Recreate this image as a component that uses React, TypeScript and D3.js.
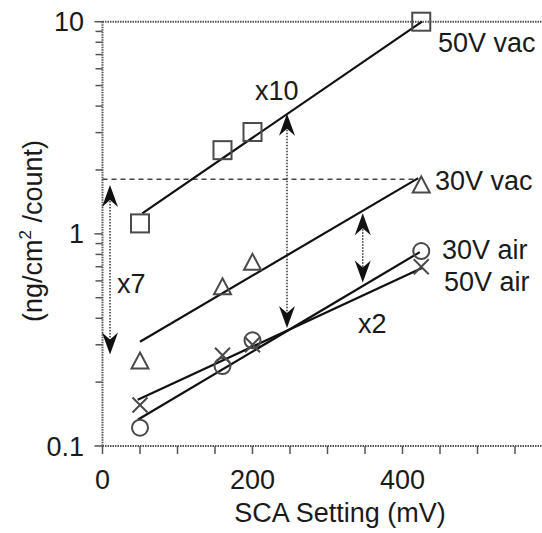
import React from "react";
import * as d3 from "d3";

// ---- data ----
const xTicks = [0, 50, 100, 150, 200, 250, 300, 350, 400, 450, 500, 550];
const xTickLabels = [0, 200, 400];
const yTickLabels = [
  { v: 0.1, t: "0.1" },
  { v: 1, t: "1" },
  { v: 10, t: "10" },
];
const vac50X = [50, 160, 200, 425];
const vac50Y = [1.12, 2.48, 3.02, 10.0];
const vac30X = [50, 160, 200, 425];
const vac30Y = [0.25, 0.56, 0.73, 1.69];
const air30X = [50, 160, 200, 425];
const air30Y = [0.122, 0.238, 0.315, 0.83];
const air50X = [50, 160, 200, 425];
const air50Y = [0.156, 0.268, 0.3, 0.7];

// fit lines: [x0, y0, x1, y1]
const fitVac50 = [53, 1.25, 426, 10.0];
const fitVac30 = [50, 0.31, 421, 1.83];
const fitAir30 = [47, 0.133, 423, 0.82];
const fitAir50 = [47, 0.165, 426, 0.69];

// reference dashed level
const dashedLevel = { y: 1.81, x0: 0, x1: 415 };

// double arrows: [x, yLow, yHigh]
const arrowX7 = [10, 0.27, 1.7];
const arrowX10 = [246, 0.36, 3.68];
const arrowX2 = [347, 0.59, 1.25];

const FONT = "'Liberation Sans', Arial, Helvetica, sans-serif";

export default function App() {
  const W = 542;
  const H = 533;
  const x = d3.scaleLinear().domain([0, 400]).range([102.5, 402.5]);
  const y = d3.scaleLog().domain([0.1, 10]).range([446, 21.7]);
  const xEnd = W;

  const minorY: number[] = [];
  [0.1, 1].forEach((d) => {
    for (let k = 2; k <= 9; k++) minorY.push(d * k);
  });

  const line = (f: number[], key: string) => (
    <line
      key={key}
      x1={x(f[0])}
      y1={y(f[1])}
      x2={x(f[2])}
      y2={y(f[3])}
      stroke="#111"
      strokeWidth={2.2}
    />
  );

  const head = (px: number, py: number, d: number, key: string) => {
    // d = -1 points up, +1 points down
    const pts = [
      [px, py],
      [px + 8, py - d * 22],
      [px, py - d * 15],
      [px - 8, py - d * 22],
    ];
    return <path key={key} d={"M" + pts.map((p) => p.join(",")).join("L") + "Z"} fill="#111" />;
  };

  const dbl = (a: number[], key: string) => {
    const px = x(a[0]);
    const yl = y(a[1]);
    const yh = y(a[2]);
    return (
      <g key={key}>
        <line x1={px} x2={px} y1={yh + 10} y2={yl - 10} stroke="#333" strokeWidth={1.5} strokeDasharray="1.5,1.5" />
        {head(px, yh, -1, key + "u")}
        {head(px, yl, 1, key + "d")}
      </g>
    );
  };

  const mk = "#4a4a4a";
  const squares = vac50X.map((v, i) => (
    <rect key={"s" + i} x={x(v) - 9} y={y(vac50Y[i]) - 9} width={18} height={18} fill="none" stroke={mk} strokeWidth={2} />
  ));
  const tris = vac30X.map((v, i) => {
    const cx = x(v);
    const cy = y(vac30Y[i]);
    return (
      <path key={"t" + i} d={`M${cx},${cy - 9}L${cx + 8.5},${cy + 7}L${cx - 8.5},${cy + 7}Z`} fill="none" stroke={mk} strokeWidth={2} />
    );
  });
  const circles = air30X.map((v, i) => (
    <circle key={"c" + i} cx={x(v)} cy={y(air30Y[i])} r={8} fill="none" stroke={mk} strokeWidth={2} />
  ));
  const crosses = air50X.map((v, i) => {
    const cx = x(v);
    const cy = y(air50Y[i]);
    const s = 7.5;
    return (
      <path key={"x" + i} d={`M${cx - s},${cy - s}L${cx + s},${cy + s}M${cx + s},${cy - s}L${cx - s},${cy + s}`} stroke={mk} strokeWidth={2} />
    );
  });

  const axisStyle = { stroke: "#555", strokeWidth: 2, strokeDasharray: "1.5,1" };
  const txt = { fontFamily: FONT, fontSize: 27, fill: "#1a1a1a" } as const;

  return (
    <svg width={W} height={H} style={{ position: "absolute", left: 0, top: 0, background: "#fff" }}>
      {/* frame */}
      <line x1={x(0)} x2={xEnd} y1={y(10)} y2={y(10)} {...axisStyle} />
      <line x1={x(0)} x2={xEnd} y1={y(0.1)} y2={y(0.1)} {...axisStyle} />
      <line x1={x(0)} x2={x(0)} y1={y(10)} y2={y(0.1)} {...axisStyle} />
      {/* y ticks */}
      {yTickLabels.map((t) => (
        <line key={"ym" + t.v} x1={x(0) - 8} x2={x(0)} y1={y(t.v)} y2={y(t.v)} stroke="#555" strokeWidth={1.5} />
      ))}
      {minorY.map((v) => (
        <line key={"yn" + v} x1={x(0) - 7} x2={x(0)} y1={y(v)} y2={y(v)} stroke="#555" strokeWidth={1.5} />
      ))}
      {yTickLabels.map((t) => (
        <text key={"yl" + t.v} x={84} y={y(t.v) + 9.5} textAnchor="end" {...txt}>
          {t.t}
        </text>
      ))}
      {/* x ticks */}
      {xTicks.map((v) => (
        <line key={"xt" + v} x1={x(v)} x2={x(v)} y1={y(0.1)} y2={y(0.1) + 8} stroke="#555" strokeWidth={1.5} />
      ))}
      {xTickLabels.map((v) => (
        <text key={"xl" + v} x={x(v)} y={489} textAnchor="middle" {...txt}>
          {v}
        </text>
      ))}
      {/* axis titles */}
      <text x={340} y={522} textAnchor="middle" {...txt}>
        SCA Setting (mV)
      </text>
      <text transform="translate(42,231) rotate(-90)" textAnchor="middle" {...txt}>
        (ng/cm
        <tspan fontSize={17} dy={-11}>
          2
        </tspan>
        <tspan dy={11}> /count)</tspan>
      </text>

      {/* dashed reference */}
      <line
        x1={x(dashedLevel.x0)}
        x2={x(dashedLevel.x1)}
        y1={y(dashedLevel.y)}
        y2={y(dashedLevel.y)}
        stroke="#444"
        strokeWidth={1.5}
        strokeDasharray="5,4"
      />

      {/* fits */}
      {line(fitVac50, "f1")}
      {line(fitVac30, "f2")}
      {line(fitAir30, "f3")}
      {line(fitAir50, "f4")}

      {/* markers */}
      {squares}
      {tris}
      {circles}
      {crosses}

      {/* arrows */}
      {dbl(arrowX7, "a7")}
      {dbl(arrowX10, "a10")}
      {dbl(arrowX2, "a2")}

      {/* annotations */}
      <text x={117} y={293} {...txt}>x7</text>
      <text x={255} y={100} {...txt}>x10</text>
      <text x={358} y={333} {...txt}>x2</text>
      <text x={438} y={52} {...txt}>50V vac</text>
      <text x={435} y={190} {...txt}>30V vac</text>
      <text x={442} y={259} {...txt}>30V air</text>
      <text x={444} y={291} {...txt}>50V air</text>
    </svg>
  );
}
